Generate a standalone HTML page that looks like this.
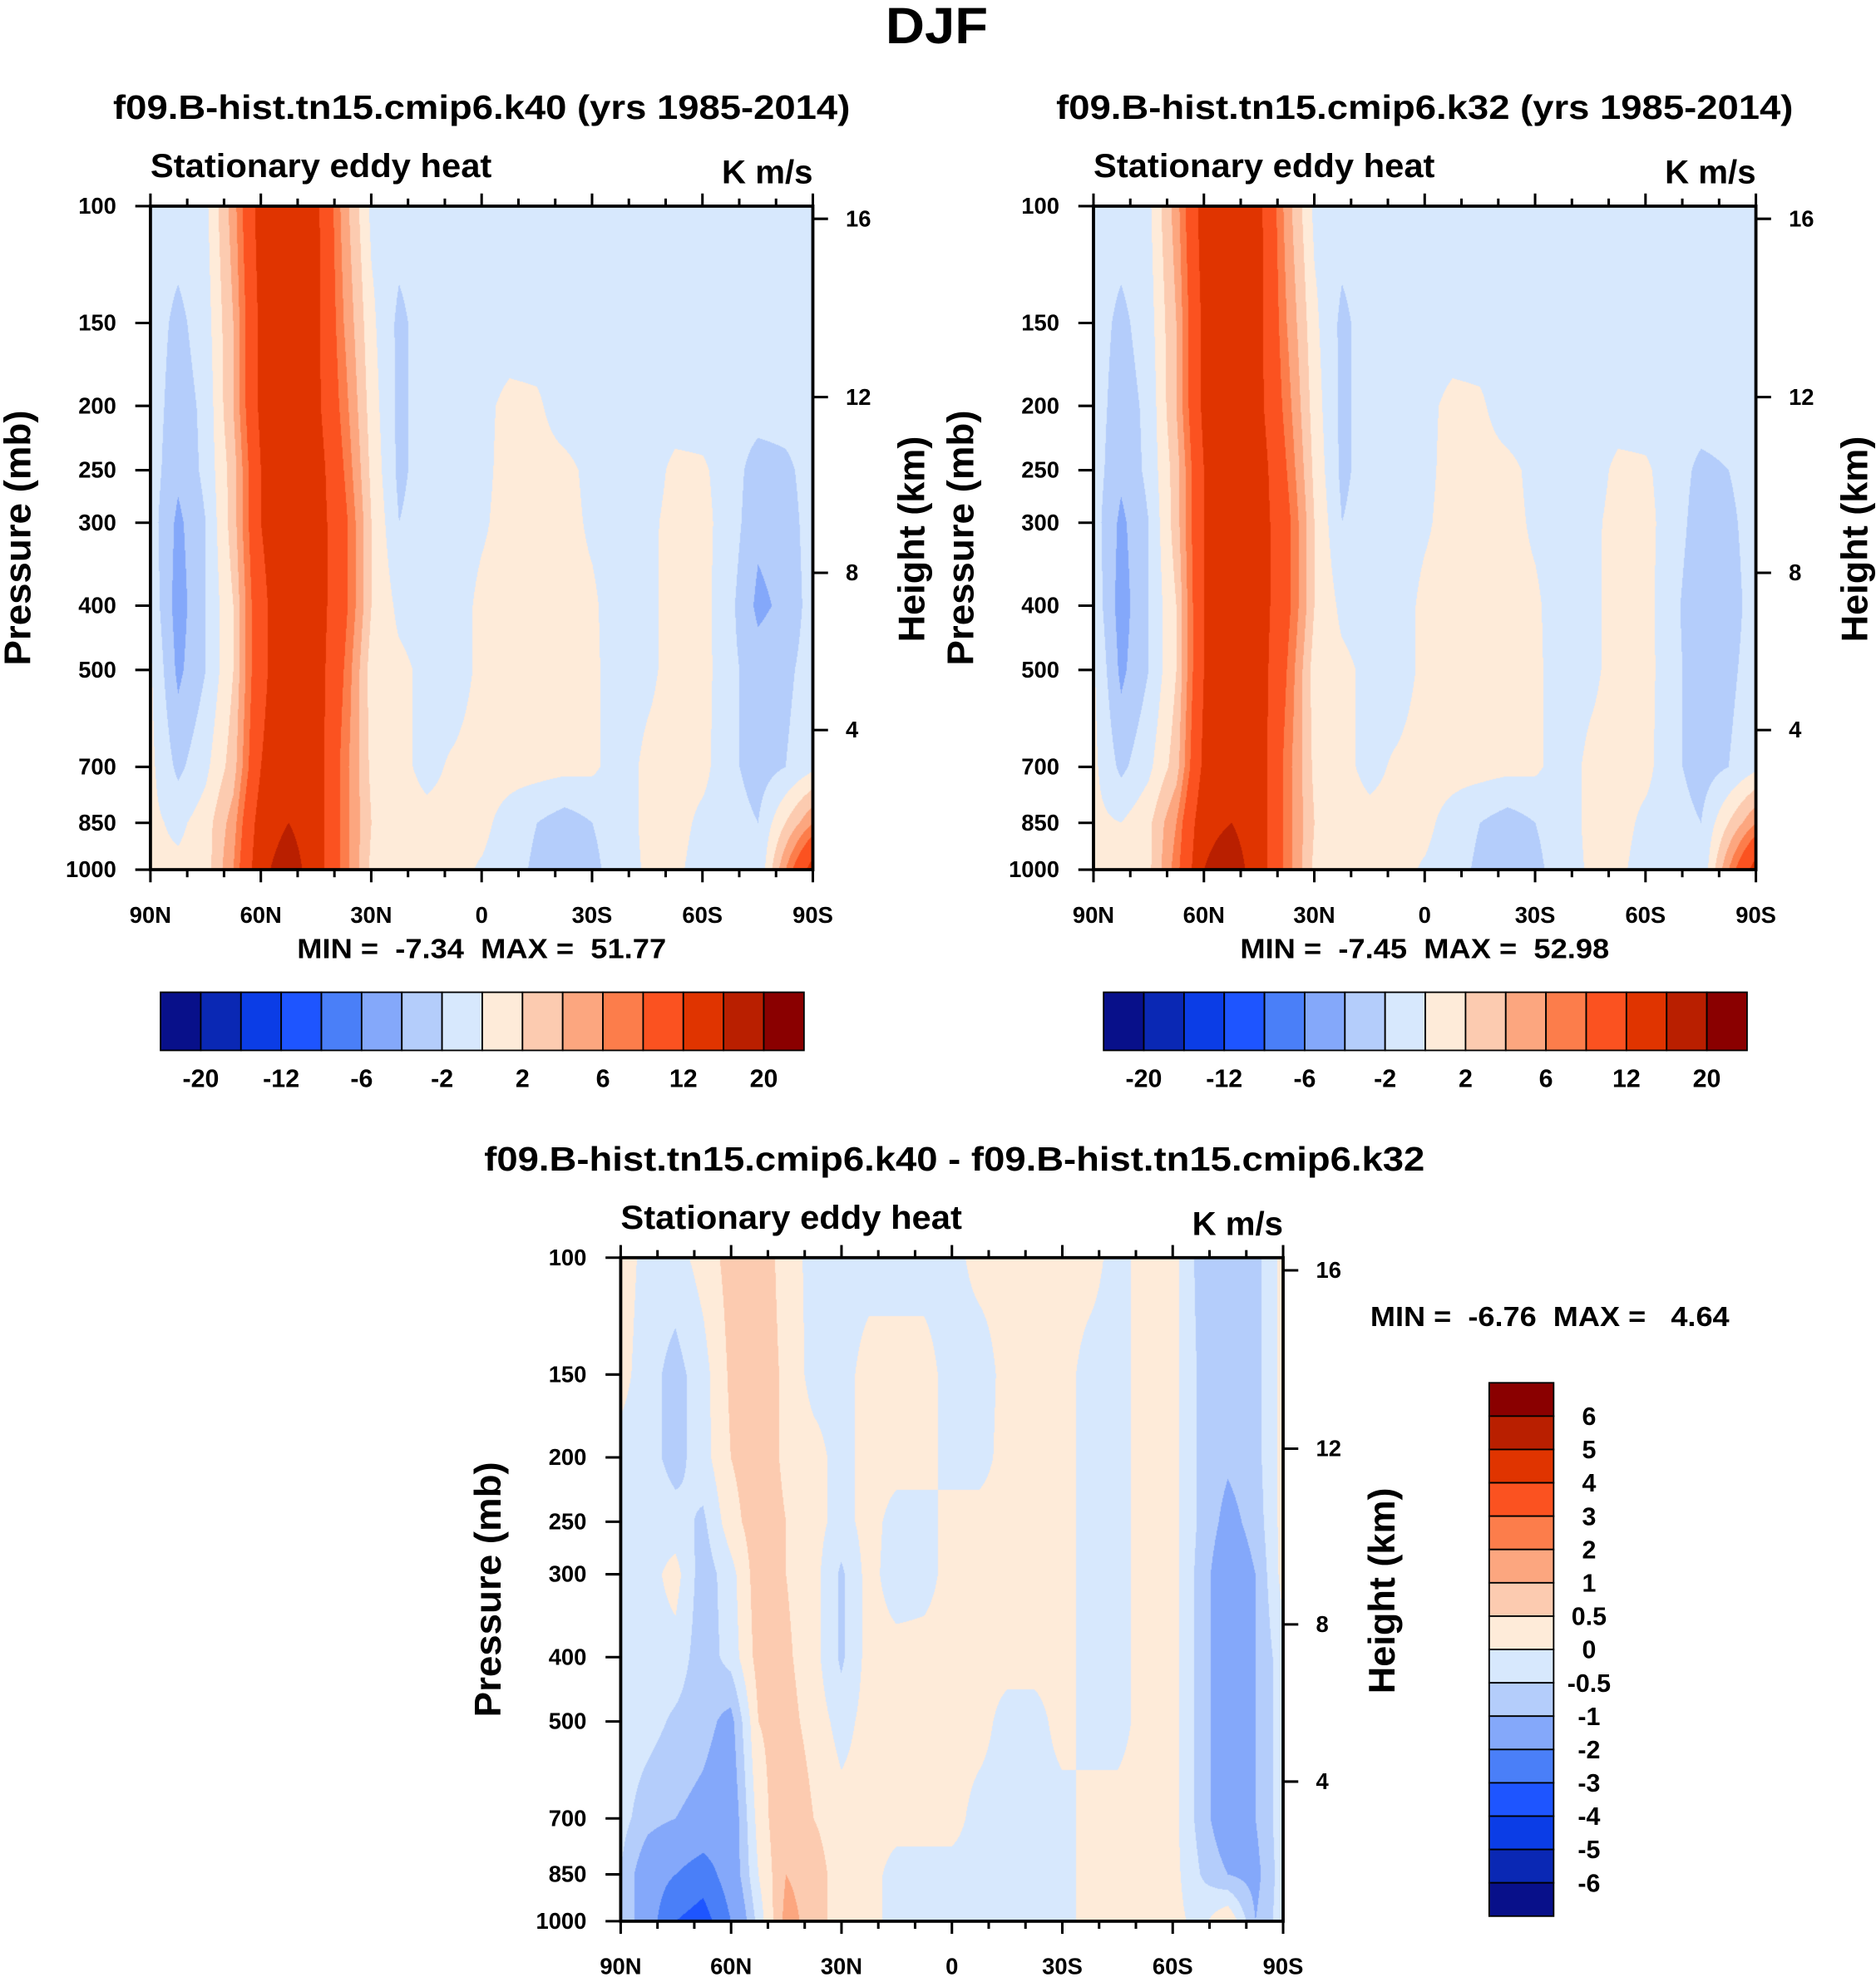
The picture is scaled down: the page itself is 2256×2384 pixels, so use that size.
<!DOCTYPE html>
<html><head><meta charset="utf-8"><style>
html,body{margin:0;padding:0;background:#fff}
#wrap{position:relative;width:2256px;height:2384px;overflow:hidden;background:#fff}
#wrap svg{position:absolute;left:0;top:0}
canvas{position:absolute}
text{font-family:"Liberation Sans",Arial,sans-serif;font-weight:bold;fill:#000;white-space:pre}
</style></head><body>
<div id="wrap">
<svg id="svg" width="2256" height="2384" viewBox="0 0 1484 1568">
<text x="741" y="34" font-size="40" text-anchor="middle" textLength="81" lengthAdjust="spacingAndGlyphs">DJF</text>
</svg>
</div>
<script>
const lats=[90,82.5,75,67.5,60,52.5,45,37.5,30,22.5,15,7.5,0,-7.5,-15,-22.5,-30,-37.5,-45,-52.5,-60,-67.5,-75,-82.5,-90];
const pLevels=[100,150,200,250,300,400,500,700,850,1000];
const field1=[
[-1,-1,-0.5,5,14,15,13,5,-0.5,-1,-1,-1,-1,-1,-1,-1,-1,-1,-1,-1,-1,-1,-1,-1,-1],
[-1,-2.5,-1,4,13,15,13,6,0.5,-2.5,-1,-1,-1,-1,-1,-1,-1,-1,-1,-1,-1,-1,-1,-1,-1],
[-1,-3,-1.5,4,13,15,13,7,1,-2.5,-1,-1,-0.5,0.5,0.3,-1,-1,-1,-1,-1,-1,-1,-1,-1,-1],
[-1,-3.5,-1.5,3,12,15,14,8,1.5,-2.5,-1,-1,-0.5,0.7,0.7,0.5,-0.5,-1,-1,0.5,0.3,-1,-3,-2.5,-1],
[-1,-4.5,-2,3,12,15,14,9,2,-2,-1,-1,-0.3,0.8,0.8,0.6,-0.3,-1,-0.5,0.7,0.6,-1,-3.5,-3,-1],
[-0.5,-5,-2,2,11,15,14,9,2,-0.5,-1,-1,0.5,0.8,0.8,0.6,0.3,-1,-0.5,0.8,0.7,-1.5,-4.5,-3.5,-1],
[0.3,-4.5,-2,2,11,15,14,8,1,0.5,-0.5,-1,0.5,0.8,0.8,0.6,0.4,-1,-0.5,0.8,0.8,-1.5,-3,-2.5,-1],
[0.5,-2.5,-0.5,3,12,15,14,7,1.5,0.5,-0.5,0.3,0.8,0.8,0.8,0.6,0.4,-1,0.5,0.8,0.6,-1.5,-3,-2,-0.5],
[0.5,-0.5,1,5,14,16,14,7,2,0.7,0.5,0.5,0.5,-0.8,-2,-3,-2,-1,0.5,0.8,-0.5,-1,-2,2,6],
[0.5,0.5,1,6,15,18,14,7,1.5,0.5,0.5,0.5,-0.2,-1,-2.5,-4,-2.5,-1,0.3,0.5,-1,-1,-2,6,14]];
const field2=[
[-1,-1,-0.5,5,14,15,13,5,-0.5,-1,-1,-1,-1,-1,-1,-1,-1,-1,-1,-1,-1,-1,-1,-1,-1],
[-1,-2.5,-1,4,13,15,13,6,0.5,-2.5,-1,-1,-1,-1,-1,-1,-1,-1,-1,-1,-1,-1,-1,-1,-1],
[-1,-3,-1.5,4,13,15,13,7,1,-2.5,-1,-1,-0.5,0.5,0.3,-1,-1,-1,-1,-1,-1,-1,-1,-1,-1],
[-1,-3.5,-1.5,3,12,15,14,8,1.5,-2.5,-1,-1,-0.5,0.7,0.7,0.5,-0.5,-1,-1,0.5,0.3,-1,-2.5,-2,-1],
[-1,-4.5,-2,3,12,15,14,9,2,-2,-1,-1,-0.3,0.8,0.8,0.6,-0.3,-1,-0.5,0.7,0.6,-1,-3,-2.5,-1],
[-0.5,-5,-2,2,12,15,14,9,2,-0.5,-1,-1,0.5,0.8,0.8,0.6,0.3,-1,-0.5,0.8,0.7,-1.5,-3.5,-3,-1],
[0.3,-4.5,-2,2,12,15,14,8,1,0.5,-0.5,-1,0.5,0.8,0.8,0.6,0.4,-1,-0.5,0.8,0.8,-1.5,-3,-2.5,-1],
[0.5,-2.5,-0.5,3,13,15,14,7,1.5,0.5,-0.5,0.3,0.8,0.8,0.8,0.6,0.4,-1,0.5,0.8,0.6,-1.5,-3,-2,-0.5],
[0.5,0,1.5,6,15,16,14,7,2,0.7,0.5,0.5,0.5,-0.8,-2,-3,-2,-1,0.5,0.8,-0.5,-1,-2,2,6],
[0.5,0.5,1.5,7,16,18,14,7,1.5,0.5,0.5,0.5,-0.2,-1,-2.5,-4,-2.5,-1,0.3,0.5,-1,-1,-2,6,14]];
const field3=[
[0.3,-0.2,-0.2,0.2,0.7,0.8,0.3,-0.2,-0.2,-0.2,-0.2,-0.2,-0.2,0.2,0.2,0.2,0.2,0.2,-0.2,0.2,0.2,-0.7,-0.8,-0.7,0.2],
[0.2,-0.3,-0.7,-0.2,0.6,0.8,0.4,-0.2,-0.2,0.2,0.2,0.2,-0.2,-0.3,0.2,0.2,0.2,-0.2,-0.2,0.2,0.2,-0.6,-0.8,-0.7,0.2],
[-0.2,-0.3,-0.7,-0.2,0.5,0.8,0.4,0.2,-0.2,0.2,0.2,0.2,-0.2,-0.2,0.2,0.2,0.2,-0.2,-0.2,0.2,0.2,-0.6,-0.9,-0.7,0.2],
[-0.2,-0.2,-0.3,-0.6,0.3,0.8,0.5,0.2,-0.2,0.2,-0.2,-0.2,0.2,0.2,0.2,0.2,0.2,-0.2,-0.2,0.2,0.2,-0.6,-1.2,-0.8,0.2],
[-0.2,-0.2,0.2,-0.8,-0.2,0.8,0.5,0.2,-0.6,0.2,-0.3,-0.2,0.2,0.2,0.2,0.2,0.2,-0.2,-0.2,0.2,0.2,-0.7,-1.5,-1,0.2],
[-0.2,-0.2,-0.2,-0.8,-0.3,0.7,0.6,0.2,-0.6,0.2,0.2,0.2,0.2,0.2,0.2,0.2,0.2,-0.2,-0.2,0.2,0.2,-0.7,-1.5,-1,-0.2],
[-0.2,-0.3,-0.6,-0.8,-1.2,0.5,0.7,0.3,-0.2,0.2,0.2,0.2,0.2,0.2,-0.2,-0.2,0.2,-0.2,-0.2,0.2,0.2,-0.7,-1.5,-1,-0.2],
[-0.3,-0.8,-1,-1.2,-1.5,0.2,1,0.5,0.2,0.2,0.2,0.2,0.2,-0.2,-0.2,-0.2,-0.2,0.2,0.2,0.2,0.2,-0.7,-1.5,-1,-0.2],
[-0.5,-1.5,-2,-2.5,-1.5,0,1,0.8,0.2,0.2,-0.2,-0.2,-0.2,-0.2,-0.2,-0.2,-0.2,0.2,0.2,0.2,0.2,-0.5,-1,-1.2,-0.2],
[-0.5,-1.5,-3,-3.5,-2,-0.3,1.2,0.8,0.2,0.2,-0.2,-0.2,-0.2,-0.2,-0.2,-0.2,-0.2,0.2,0.2,0.2,0.2,-0.2,0.5,-1,-0.2]];
const levels1=[-20,-16,-12,-8,-6,-4,-2,0,2,4,6,8,12,16,20];
const levels3=[-6,-5,-4,-3,-2,-1,-0.5,0,0.5,1,2,3,4,5,6];
const colors=['#08108a','#0a28b4','#0b3de6','#1e55ff','#4a7ff8','#84a8fa','#b4cdfb','#d7e8fd','#feebd9','#fccbb0','#fca67f','#fc7d4b','#fb5220','#e03400','#b91f00','#8a0000'];
const cbLabels1=['-20','-12','-6','-2','2','6','12','20'];
const cbLabels3=['6','5','4','3','2','1','0.5','0','-0.5','-1','-2','-3','-4','-5','-6'];
const latTicks=[90,60,30,0,-30,-60,-90];
const latLabels=['90N','60N','30N','0','30S','60S','90S'];
const pTicks=[100,150,200,250,300,400,500,700,850,1000];
const hTicks=[4,8,12,16];
const hPress=[616,357,194,104.5];

const S=2256/1484, NS='http://www.w3.org/2000/svg';
const svg=document.getElementById('svg'), wrap=document.getElementById('wrap');
function el(tag,attrs,parent){const e=document.createElementNS(NS,tag);for(const k in attrs)e.setAttribute(k,attrs[k]);(parent||svg).appendChild(e);return e;}
function txt(x,y,s,size,anchor,parent,extra){const t=el('text',Object.assign({x:x,y:y,'font-size':size,'text-anchor':anchor||'start'},extra||{}),parent);t.textContent=s;return t;}
function fit(len){return {textLength:len,lengthAdjust:'spacingAndGlyphs'};}

function interp(field,lat,lp){
  let c=(90-lat)/7.5; let c0=Math.min(Math.floor(c),lats.length-2); let fc=c-c0;
  let r0=0; while(r0<pLevels.length-2 && Math.log10(pLevels[r0+1])<lp) r0++;
  const a=Math.log10(pLevels[r0]), b=Math.log10(pLevels[r0+1]); let fr=(lp-a)/(b-a); fr=Math.max(0,Math.min(1,fr));
  const v00=field[r0][c0],v01=field[r0][c0+1],v10=field[r0+1][c0],v11=field[r0+1][c0+1];
  return (v00*(1-fc)+v01*fc)*(1-fr)+(v10*(1-fc)+v11*fc)*fr;
}
function hex(h){return [parseInt(h.substr(1,2),16),parseInt(h.substr(3,2),16),parseInt(h.substr(5,2),16)];}
const rgb=colors.map(hex);

function panel(id,ox,oy,field,levels,title,titleLen){
  const W=524,H=525;
  const g=el('g',{});
  
  
  const cv=document.createElement('canvas');
  
  
  const cw=Math.round(W*S), ch=Math.round(H*S);
  cv.width=cw; cv.height=ch; cv.style.left=(ox*S)+'px'; cv.style.top=(oy*S)+'px';
  wrap.insertBefore(cv,svg);
  const ctx=cv.getContext('2d'), img=ctx.createImageData(cw,ch);
  for(let py=0;py<ch;py++){const lp=2+(py+0.5)/ch;
    for(let px=0;px<cw;px++){const lat=90-(px+0.5)/cw*180;
      const v=interp(field,lat,lp); let k=0; while(k<levels.length&&v>=levels[k])k++;
      const c=rgb[k], i=(py*cw+px)*4; img.data[i]=c[0];img.data[i+1]=c[1];img.data[i+2]=c[2];img.data[i+3]=255;}}
  ctx.putImageData(img,0,0);
  const xOf=l=>ox+(90-l)/180*W, yOf=p=>oy+Math.log10(p/100)*H;
  const fr=el('rect',{x:ox,y:oy,width:W,height:H,fill:'none',stroke:'#000','stroke-width':2.5},g);
   
  for(let l=90;l>=-90;l-=10){const x=xOf(l),maj=(l%30===0),len=maj?10:6;
    const t1=el('line',{x1:x,y1:oy,x2:x,y2:oy-len,stroke:'#000','stroke-width':2},g);
     
    const t2=el('line',{x1:x,y1:oy+H,x2:x,y2:oy+H+len,stroke:'#000','stroke-width':2},g);
     }
  latTicks.forEach((l,i)=>{const t=txt(xOf(l),oy+H+42,latLabels[i],18,'middle',g);
     });
  pTicks.forEach(p=>{const y=yOf(p);
    const t=el('line',{x1:ox,y1:y,x2:ox-12,y2:y,stroke:'#000','stroke-width':2},g);
     
    const lb=txt(ox-27,y+6,String(p),18,'end',g);
     });
  hTicks.forEach((h,i)=>{const y=yOf(hPress[i]);
    const t=el('line',{x1:ox+W,y1:y,x2:ox+W+12,y2:y,stroke:'#000','stroke-width':2},g);
     
    const lb=txt(ox+W+26,y+6,String(h),18,'start',g);
     });
  const yt=txt(0,0,'Pressure (mb)',29,'middle',g,Object.assign({transform:`translate(${ox-95},${oy+H/2}) rotate(-90)`},fit(202)));
   
  const ht=txt(0,0,'Height (km)',29,'middle',g,Object.assign({transform:`translate(${ox+W+88},${oy+H/2+1}) rotate(-90)`},fit(163)));
   
  const st=txt(ox,oy-23,'Stationary eddy heat',26,'start',g,fit(270));
   
  const un=txt(ox+W,oy-18,'K m/s',26,'end',g,fit(72));
   
  const tt=txt(ox+W/2+(titleLen>700?2:0),oy-69,title,27,'middle',g,fit(titleLen));
   
}
panel('panel-k40',119,163,field1,levels1,'f09.B-hist.tn15.cmip6.k40 (yrs 1985-2014)',583);
panel('panel-k32',865,163,field2,levels1,'f09.B-hist.tn15.cmip6.k32 (yrs 1985-2014)',583);
panel('panel-diff',491,995,field3,levels3,'f09.B-hist.tn15.cmip6.k40 - f09.B-hist.tn15.cmip6.k32',744);

function hbar(id,x0,y0,mm){
  const g=el('g',{});
  
  
  const w=509/16;
  colors.forEach((c,i)=>{const r=el('rect',{x:x0+i*w,y:y0,width:w,height:46,fill:c,stroke:'#000','stroke-width':1.2},g);
     });
  cbLabels1.forEach((s,i)=>{const t=txt(x0+(2*i+1)*w,y0+75,s,20,'middle',g);
     });
  const m=txt(x0+254,y0-27,mm,22,'middle',g,fit(292));
   
}
hbar('colorbar-k40',127,785,'MIN =  -7.34  MAX =  51.77');
hbar('colorbar-k32',873,785,'MIN =  -7.45  MAX =  52.98');
(function(){
  const g=el('g',{});
  
  
  const x0=1178,y0=1094,h=422/16;
  colors.slice().reverse().forEach((c,i)=>{const r=el('rect',{x:x0,y:y0+i*h,width:51,height:h,fill:c,stroke:'#000','stroke-width':1.2},g);
     });
  cbLabels3.forEach((s,i)=>{const t=txt(1257,y0+(i+1)*h+7,s,20,'middle',g);
     });
  const m=txt(1226,1049,'MIN =  -6.76  MAX =   4.64',22,'middle',g,fit(284));
   
})();
</script>
</body></html>
